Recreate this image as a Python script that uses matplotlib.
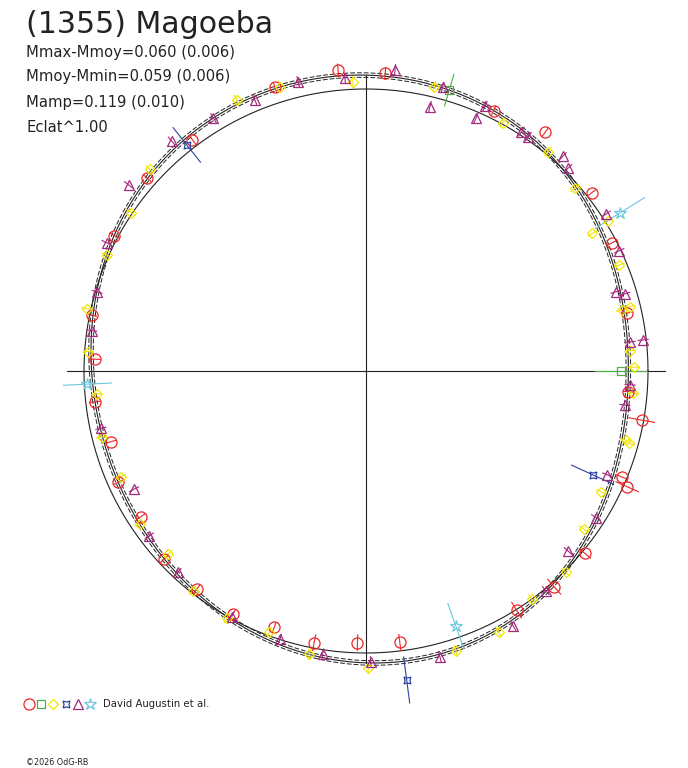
import numpy as np
import matplotlib
matplotlib.use("Agg")
import matplotlib.pyplot as plt

W, H = 688, 768
CX, CY, R0 = 366, 371, 282  # pixel centre of the polar diagram and unit radius

# ---- Fourier fit of the composite lightcurve (relative brightness vs phase) ----
FIT_C0 = 1.0
FIT_COS = [-0.0144, -0.0452, -0.0069, -0.0031]
FIT_SIN = [0.0135, -0.0142, 0.0064, 0.0]
FIT_BAND = 0.008

# ---- observations: phase angle (deg), relative brightness, radial error ----
red_phase = [95.3, 86.3, 107.8, 126.9, 138.6, 151.7, 168.5, 177.5, 186.5, 195.5,
             204.2, 212.9, 223.0, 232.2, 241.3, 250.3, 259.2, 268.2, 277.1, 302.2,
             311.1, 320.2, 336.1, 337.5, 349.9, 355.5, 12.5, 27.5, 38.3, 53.1, 63.9]
red_flux = [1.072, 1.058, 1.056, 1.025, 1.034, 1.013, 0.993, 0.962, 0.967, 0.939,
            0.963, 0.950, 0.978, 0.980, 0.984, 0.966, 0.981, 0.964, 0.970, 1.002,
            1.015, 1.011, 1.013, 0.981, 0.993, 0.933, 0.949, 0.982, 1.020, 1.058, 1.028]
red_err = [0.021, 0.021, 0.018, 0.018, 0.018, 0.018, 0.018, 0.018, 0.018, 0.018,
           0.018, 0.018, 0.018, 0.018, 0.018, 0.018, 0.028, 0.028, 0.028, 0.032,
           0.035, 0.025, 0.043, 0.021, 0.046, 0.018, 0.018, 0.018, 0.018, 0.018, 0.018]

green_phase = [73.5, 0.0]
green_flux = [1.039, 0.904]
green_err = [0.058, 0.092]

yellow_phase = [92.6, 76.5, 106.8, 115.5, 137.0, 146.0, 155.9, 167.4, 176.0, 184.9,
                194.0, 203.3, 214.1, 222.8, 231.7, 240.6, 249.7, 258.7, 270.4, 287.8,
                296.9, 306.0, 314.8, 324.0, 332.8, 344.6, 345.1, 355.2, 0.8, 4.4,
                13.4, 13.7, 22.7, 31.3, 31.8, 41.2, 50.3, 61.2]
yellow_flux = [1.027, 1.037, 1.053, 1.065, 1.048, 1.005, 1.007, 1.015, 0.987, 0.959,
               0.966, 0.947, 0.968, 0.955, 0.992, 1.006, 0.988, 1.024, 1.054, 1.042,
               1.039, 1.000, 1.006, 0.954, 0.937, 0.968, 0.954, 0.949, 0.950, 0.939,
               0.932, 0.963, 0.974, 0.940, 1.011, 0.984, 1.011, 1.005]
yellow_err = [0.018] * len(yellow_phase)

blue_phase = [128.4, 277.5, 335.4]
blue_flux = [1.023, 1.105, 0.884]
blue_err = [0.078, 0.082, 0.082]

purple_phase = [94.1, 84.5, 74.9, 76.4, 66.5, 65.8, 57.0, 55.3, 47.5, 45.1,
                33.2, 25.4, 17.6, 16.6, 6.3, 6.4, 357.0, 352.5, 336.7, 327.5,
                318.3, 309.3, 300.0, 284.5, 270.9, 261.3, 252.2, 241.3, 226.9, 217.3,
                207.0, 192.2, 171.6, 163.6, 153.7, 141.9, 130.2, 121.1, 112.3, 103.2]
purple_flux = [1.040, 1.074, 1.042, 0.965, 0.977, 1.030, 1.012, 1.011, 1.032, 1.016,
               1.017, 0.994, 0.930, 0.958, 0.942, 0.989, 0.938, 0.926, 0.932, 0.967,
               0.960, 1.006, 1.044, 1.046, 1.031, 1.015, 0.999, 0.993, 0.978, 0.966,
               0.923, 0.962, 0.983, 0.994, 1.026, 1.070, 1.068, 1.047, 1.039, 1.054]
purple_err = [0.018] * len(purple_phase)

cyan_phase = [31.9, 182.7, 289.4]
cyan_flux = [1.061, 0.989, 0.959]
cyan_err = [0.103, 0.085, 0.085]

SERIES = [
    (red_phase, red_flux, red_err, '#ee2424', 'o', 8.0),
    (green_phase, green_flux, green_err, '#4cb043', 's', 6.0),
    (yellow_phase, yellow_flux, yellow_err, '#f2e600', 'D', 5.2),
    (blue_phase, blue_flux, blue_err, '#2a44a0', (4, 1, 45), 7.0),
    (purple_phase, purple_flux, purple_err, '#a4287e', '^', 6.8),
    (cyan_phase, cyan_flux, cyan_err, '#6cc8de', '*', 9.0),
]

TITLE = "(1355) Magoeba"
INFO = ["Mmax-Mmoy=0.060 (0.006)", "Mmoy-Mmin=0.059 (0.006)",
        "Mamp=0.119 (0.010)", "Eclat^1.00"]
OBSERVER = "David Augustin et al."
COPYRIGHT = "\u00a92026 OdG-RB"

fig = plt.figure(figsize=(W / 100, H / 100), dpi=100)
ax = fig.add_axes([0, 0, 1, 1])
ax.set_xlim((0 - CX) / R0, (W - CX) / R0)
ax.set_ylim((CY - H) / R0, CY / R0)
ax.axis('off')

# axes cross
ax.plot([-1.06, 1.06], [0, 0], color='#222222', lw=0.8, zorder=1)
ax.plot([0, 0], [-1.035, 1.05], color='#222222', lw=0.8, zorder=1)

# reference circle
t = np.linspace(0, 2 * np.pi, 721)
ax.plot(np.cos(t), np.sin(t), color='#222222', lw=0.8, zorder=1)

# fitted curve and its uncertainty band
rfit = FIT_C0 + sum(c * np.cos((k + 1) * t) + s * np.sin((k + 1) * t)
                    for k, (c, s) in enumerate(zip(FIT_COS, FIT_SIN)))
ax.plot(rfit * np.cos(t), rfit * np.sin(t), color='#222222', lw=0.8, zorder=2)
for off in (-FIT_BAND, FIT_BAND):
    rr = rfit + off
    ax.plot(rr * np.cos(t), rr * np.sin(t), color='#222222', lw=0.7,
            ls=(0, (5, 2)), zorder=2)

# observations with radial error bars
for ph, fl, er, col, mk, ms in SERIES:
    a = np.deg2rad(np.array(ph))
    f = np.array(fl)
    e = np.array(er)
    for ai, fi, ei in zip(a, f, e):
        ax.plot([(fi - ei) * np.cos(ai), (fi + ei) * np.cos(ai)],
                [(fi - ei) * np.sin(ai), (fi + ei) * np.sin(ai)],
                color=col, lw=0.8, zorder=3)
    ax.plot(f * np.cos(a), f * np.sin(a), ls='none', marker=mk, ms=ms,
            mfc='none', mec=col, mew=0.9, zorder=4)

# texts
fig.text(26 / W, 1 - 33 / H, TITLE, fontsize=21.6, ha='left', va='baseline',
         color='#222222', family='DejaVu Sans')
for i, line in enumerate(INFO):
    fig.text(26 / W, 1 - (56.5 + 25 * i) / H, line, fontsize=10.6, ha='left',
             va='baseline', color='#222222', family='DejaVu Sans')

# legend row
leg_x = [29, 41, 53, 66, 78, 90]
for (ph, fl, er, col, mk, ms), lx in zip(SERIES, leg_x):
    ax.plot([lx / W], [1 - 704 / H], transform=fig.transFigure, ls='none',
            marker=mk, ms=ms, mfc='none', mec=col, mew=0.9, clip_on=False)
fig.text(103 / W, 1 - 704 / H, OBSERVER, fontsize=7.3, ha='left', va='center',
         color='#222222', family='DejaVu Sans')
fig.text(26 / W, 1 - 765 / H, COPYRIGHT, fontsize=5.8, ha='left', va='baseline',
         color='#222222', family='DejaVu Sans')

fig.savefig('out.png', dpi=100, facecolor='white')
